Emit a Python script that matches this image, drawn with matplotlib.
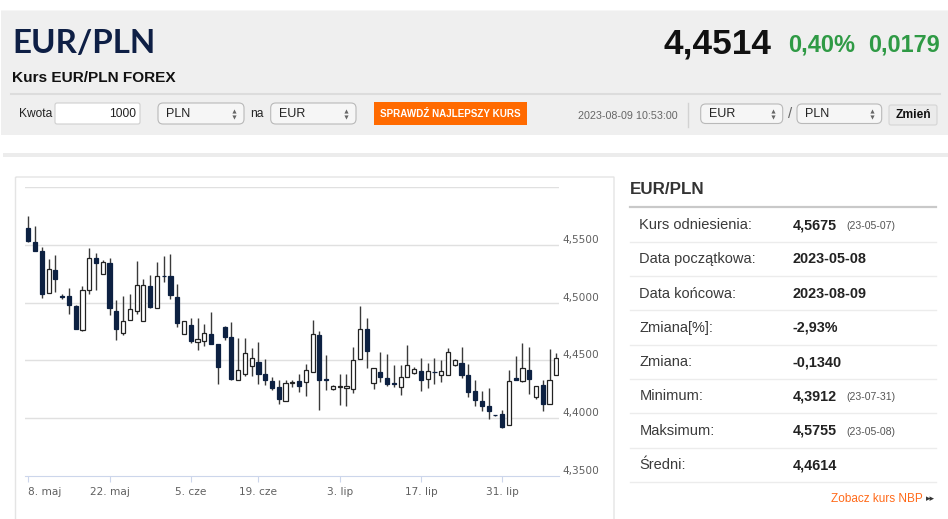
import numpy as np
import matplotlib
matplotlib.use("Agg")
import matplotlib.pyplot as plt
from matplotlib.patches import FancyBboxPatch

plt.rcParams['font.family'] = ['Liberation Sans', 'DejaVu Sans']

# EUR/PLN daily candles, 2023-05-08 .. 2023-08-09
opens = [4.5648, 4.5524, 4.5447, 4.5086, 4.5285, 4.5060, 4.5060, 4.4974, 4.4764, 4.5112,
         4.5389, 4.5251, 4.5346, 4.4925, 4.4738, 4.4850, 4.4928, 4.4841, 4.5144, 4.4957,
         4.5230, 4.5230, 4.5052, 4.4729, 4.4807, 4.4657, 4.4671, 4.4732, 4.4640, 4.4787,
         4.4700, 4.4334, 4.4383, 4.4455, 4.4487, 4.4380, 4.4326, 4.4268, 4.4150, 4.4306,
         4.4320, 4.4311, 4.4400, 4.4718, 4.4343, 4.4251, 4.4274, 4.4259, 4.4256, 4.4513,
         4.4775, 4.4305, 4.4401, 4.4352, 4.4306, 4.4271, 4.4357, 4.4392, 4.4409, 4.4340,
         4.4403, 4.4378, 4.4375, 4.4458, 4.4481, 4.4372, 4.4231, 4.4150, 4.4104, 4.4028,
         4.4040, 4.3945, 4.4346, 4.4323, 4.4421, 4.4184, 4.4285, 4.4121, 4.4372]
highs = [4.5746, 4.5660, 4.5480, 4.5380, 4.5410, 4.5078, 4.5130, 4.4980, 4.5140, 4.5475,
         4.5432, 4.5366, 4.5386, 4.5020, 4.5055, 4.5078, 4.5360, 4.5205, 4.5240, 4.5349,
         4.5400, 4.5418, 4.5164, 4.4845, 4.4870, 4.4870, 4.4813, 4.4916, 4.4640, 4.4798,
         4.4836, 4.4692, 4.4694, 4.4608, 4.4663, 4.4516, 4.4357, 4.4329, 4.4329, 4.4329,
         4.4386, 4.4473, 4.4847, 4.4752, 4.4545, 4.4284, 4.4386, 4.4386, 4.4617, 4.4968,
         4.4870, 4.4438, 4.4571, 4.4553, 4.4458, 4.4458, 4.4634, 4.4444, 4.4524, 4.4478,
         4.4524, 4.4507, 4.4608, 4.4510, 4.4617, 4.4473, 4.4329, 4.4236, 4.4262, 4.4032,
         4.4075, 4.4421, 4.4539, 4.4651, 4.4617, 4.4280, 4.4334, 4.4602, 4.4568]
lows = [4.5524, 4.5444, 4.5043, 4.5086, 4.5092, 4.5035, 4.4905, 4.4770, 4.4755, 4.5078,
        4.5107, 4.5251, 4.4890, 4.4680, 4.4723, 4.4847, 4.4900, 4.4841, 4.4954, 4.4957,
        4.5179, 4.5029, 4.4790, 4.4725, 4.4651, 4.4588, 4.4628, 4.4646, 4.4294, 4.4680,
        4.4329, 4.4334, 4.4369, 4.4369, 4.4300, 4.4285, 4.4248, 4.4121, 4.4150, 4.4271,
        4.4225, 4.4190, 4.4400, 4.4069, 4.4242, 4.4248, 4.4112, 4.4104, 4.4219, 4.4513,
        4.4438, 4.4254, 4.4314, 4.4280, 4.4271, 4.4202, 4.4357, 4.4380, 4.4236, 4.4257,
        4.4294, 4.4314, 4.4375, 4.4450, 4.4352, 4.4184, 4.4107, 4.4063, 4.3997, 4.4020,
        4.3912, 4.3945, 4.4329, 4.4314, 4.4213, 4.4170, 4.4060, 4.4121, 4.4372]
closes = [4.5530, 4.5450, 4.5075, 4.5294, 4.5205, 4.5052, 4.4977, 4.4775, 4.5112, 4.5389,
          4.5346, 4.5349, 4.4954, 4.4772, 4.4841, 4.4942, 4.5156, 4.5156, 4.4960, 4.5228,
          4.5226, 4.5069, 4.4827, 4.4841, 4.4666, 4.4689, 4.4741, 4.4646, 4.4447, 4.4706,
          4.4340, 4.4415, 4.4565, 4.4524, 4.4380, 4.4334, 4.4265, 4.4164, 4.4306, 4.4309,
          4.4280, 4.4421, 4.4726, 4.4329, 4.4329, 4.4280, 4.4276, 4.4282, 4.4501, 4.4775,
          4.4579, 4.4438, 4.4357, 4.4300, 4.4294, 4.4357, 4.4464, 4.4424, 4.4329, 4.4406,
          4.4400, 4.4412, 4.4573, 4.4501, 4.4378, 4.4228, 4.4156, 4.4107, 4.4066, 4.4026,
          4.3925, 4.4320, 4.4334, 4.4438, 4.4340, 4.4280, 4.4127, 4.4329, 4.4522]

tick_pos = [0, 12, 24, 34, 46, 58, 70]
tick_labels = ["8. maj", "22. maj", "5. cze", "19. cze", "3. lip", "17. lip", "31. lip"]
y_ticks = [4.35, 4.40, 4.45, 4.50, 4.55]

# side table
row_labels = ["Kurs odniesienia:", "Data początkowa:", "Data końcowa:", "Zmiana[%]:",
              "Zmiana:", "Minimum:", "Maksimum:", "Średni:"]
row_values = ["4,5675", "2023-05-08", "2023-08-09", "-2,93%", "-0,1340", "4,3912", "4,5755", "4,4614"]
row_dates = ["(23-05-07)", "", "", "", "", "(23-07-31)", "(23-05-08)", ""]

W, H = 948, 519
fig = plt.figure(figsize=(W / 100, H / 100), dpi=100)
fig.patch.set_facecolor("white")
bg = fig.add_axes([0, 0, 1, 1])
bg.set_xlim(0, W)
bg.set_ylim(H, 0)
bg.axis("off")


def box(x0, y0, x1, y1, fc, ec="none", lw=1, r=0):
    bg.add_patch(FancyBboxPatch((x0, y0), x1 - x0, y1 - y0,
                                boxstyle="round,pad=0,rounding_size=%s" % r,
                                fc=fc, ec=ec, lw=lw))


def txt(x, y, s, px, **kw):
    return bg.text(x, y, s, fontsize=px * 0.72, **kw)


def fit(t, w):
    r = fig.canvas.get_renderer()
    bb = t.get_window_extent(r)
    t.set_fontsize(t.get_fontsize() * w / bb.width)


def select(x0, x1, y0, y1, label):
    box(x0, y0, x1, y1, "#f6f6f6", "#b9b9b9", 0.8, r=5)
    txt(x0 + 8, (y0 + y1) / 2 + 0.5, label, 12.5, va="center", color="#222")
    bg.plot([x1 - 10], [(y0 + y1) / 2 - 3], marker="^", ms=3, color="#666", mew=0)
    bg.plot([x1 - 10], [(y0 + y1) / 2 + 3], marker="v", ms=3, color="#666", mew=0)


# header block
box(1, 10.5, W, 135, "#efefef")
bg.plot([11, 940], [93.5, 93.5], color="#dcdcdc", lw=1.5)
t = txt(12.7, 52.7, "EUR/PLN", 37, family=["Lato", "DejaVu Sans"], weight="bold",
        color="#0e1f45", va="baseline")
fit(t, 144)
t = txt(11.7, 81.7, "Kurs EUR/PLN FOREX", 15, weight="bold", color="#111", va="baseline")
fit(t, 164)
t = txt(771.7, 53.3, "4,4514", 35, weight="bold", color="#111", va="baseline", ha="right")
fit(t, 108)
t = txt(788, 51.7, "0,40%", 23, weight="bold", color="#2f9a45", va="baseline")
fit(t, 67)
t = txt(868, 51.7, "0,0179", 23, weight="bold", color="#2f9a45", va="baseline")
fit(t, 72)

# controls row
txt(19, 114, "Kwota", 12, va="center", color="#222")
box(55, 103, 140, 124, "white", "#cfcfcf", 0.8, r=2)
txt(136, 114, "1000", 12, va="center", ha="right", color="#222")
select(158, 244, 103, 124, "PLN")
txt(250, 114, "na", 12, va="center", color="#222")
select(270.7, 356, 103, 124, "EUR")
box(374, 102, 527, 125, "#ff6a00")
t = txt(450.5, 114, "SPRAWDŹ NAJLEPSZY KURS", 10, weight="bold", color="white",
        ha="center", va="center")
fit(t, 141)
txt(578, 116, "2023-08-09 10:53:00", 10.7, va="center", color="#666")
bg.plot([688, 688], [103, 127], color="#d2d2d2", lw=1)
select(700.7, 782.7, 104, 123.5, "EUR")
txt(790, 114, "/", 15, va="center", ha="center", color="#666")
select(797, 881.7, 104, 123.5, "PLN")
box(889, 105, 937, 125, "#ebebeb", "#d5d5d5", 0.8, r=2)
txt(913, 115.5, "Zmień", 12, weight="bold", va="center", ha="center", color="#111")

# content frame
box(3, 153, W, 157, "#ececec")
box(15.5, 177, 614, 530, "none", "#e4e4e4", 1)

# side table
txt(630, 190, "EUR/PLN", 17, weight="bold", color="#333", va="center")
bg.plot([630, 936], [206.7, 206.7], color="#c9c9c9", lw=1.6)
for i, lab in enumerate(row_labels):
    yc = 225 + i * 34.3
    txt(639.3, yc, lab, 14.6, color="#3a3a3a", va="center")
    txt(792.7, yc, row_values[i], 14.4, weight="bold", color="#222", va="center")
    if row_dates[i]:
        txt(846, yc + 1, row_dates[i], 10.5, color="#555", va="center")
    bg.plot([630, 936], [yc + 16.8, yc + 16.8], color="#ececec", lw=1)
txt(922.7, 499, "Zobacz kurs NBP", 11.7, color="#ff6a1a", va="center", ha="right")
txt(935, 499, "▸▸", 9, family="DejaVu Sans", color="#333", va="center", ha="right")

# candlestick chart
ax = fig.add_axes([25 / W, (H - 476) / H, 534.3 / W, 289 / H])
ax.patch.set_alpha(0)
x = np.arange(len(opens))
o = np.array(opens)
c = np.array(closes)
up = c > o
ax.vlines(x, lows, highs, color="#3a3a3a", lw=1, zorder=2)
body_lo = np.minimum(o, c)
body_h = np.maximum(np.abs(c - o), 0.0003)
ax.bar(x[up], body_h[up], bottom=body_lo[up], width=0.62, color="white",
       edgecolor="#222222", lw=0.9, zorder=3)
ax.bar(x[~up], body_h[~up], bottom=body_lo[~up], width=0.62, color="#0d2142",
       edgecolor="#0d2142", lw=0.9, zorder=3)

ax.set_xlim(-0.49, 78.44)
ax.set_ylim(4.35, 4.60)
for v in y_ticks[1:] + [4.60]:
    ax.axhline(v, color="#e0e0e0", lw=1, zorder=0)
for s in ["top", "left", "right"]:
    ax.spines[s].set_visible(False)
ax.spines["bottom"].set_color("#ccd6eb")
ax.yaxis.tick_right()
ax.set_yticks(y_ticks)
ax.set_yticklabels([("%.4f" % v).replace(".", ",") for v in y_ticks])
ax.tick_params(axis="y", length=0, pad=2, labelsize=7.6, labelcolor="#606060")
for lbl in ax.get_yticklabels():
    lbl.set_va("bottom")
    lbl.set_family("DejaVu Sans")
ax.set_xticks(tick_pos)
ax.set_xticklabels(tick_labels)
ax.tick_params(axis="x", length=4.3, width=0.8, color="#ccd6eb", pad=3.6,
               labelsize=7.6, labelcolor="#606060")
for lbl in ax.get_xticklabels():
    lbl.set_family("DejaVu Sans")
ax.get_xticklabels()[0].set_ha("left")

fig.savefig("out.png", dpi=100, facecolor="white")
